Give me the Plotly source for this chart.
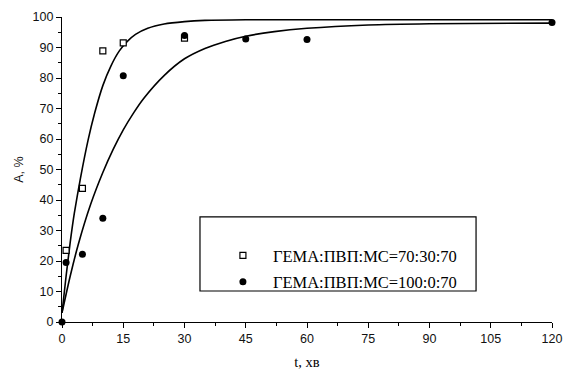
import plotly.graph_objects as go

# measured points
t_sq = [1, 5, 10, 15, 30, 45, 60, 120]
a_sq = [23.5, 43.8, 88.9, 91.5, 93.1, 100.4, 100.4, 100.4]
t_ci = [0, 1, 5, 10, 15, 30, 45, 60, 120]
a_ci = [0, 19.5, 22.2, 34.0, 80.7, 93.9, 92.8, 92.6, 98.2]

# fitted curves
t_fit1 = [0, 1, 2, 3, 4.5, 6.4, 8, 10, 12, 14, 16, 18, 21, 25, 30, 35, 45, 60, 90, 120]
a_fit1 = [3, 15, 26, 35.5, 47, 59.7, 68.5, 77.5, 84, 88.8, 92, 94.3, 96.3, 97.7, 98.5, 98.9, 99.1, 99.1, 99.1, 99.1]
t_fit2 = [0, 2, 4, 7, 10, 12.5, 15, 17.5, 20, 25, 30, 35, 40, 45, 52, 60, 75, 90, 120]
a_fit2 = [3, 15, 25.5, 38.5, 49, 56.5, 63, 68.5, 73.3, 80.8, 86.3, 89.7, 92, 93.7, 95.2, 96.3, 97.4, 97.8, 98]

names = ["ГЕМА:ПВП:МС=70:30:70", "ГЕМА:ПВП:МС=100:0:70"]
x_ticks = [0, 15, 30, 45, 60, 75, 90, 105, 120]
y_ticks = [0, 10, 20, 30, 40, 50, 60, 70, 80, 90, 100]

fig = go.Figure()
for tx, ay in ((t_fit1, a_fit1), (t_fit2, a_fit2)):
    fig.add_trace(go.Scatter(x=tx, y=ay, mode="lines",
                             line=dict(color="black", width=1.6, shape="spline", smoothing=0.6),
                             showlegend=False, hoverinfo="skip"))
fig.add_trace(go.Scatter(x=t_sq, y=a_sq, mode="markers", name=names[0], legendgroup="a",
                         marker=dict(symbol="square", size=6, color="white", line=dict(color="black", width=1.2)),
                         cliponaxis=False))
fig.add_trace(go.Scatter(x=t_ci, y=a_ci, mode="markers", name=names[1], legendgroup="b",
                         marker=dict(symbol="circle", size=7, color="black", line=dict(width=0)),
                         cliponaxis=False))

axis_common = dict(showline=True, linecolor="black", linewidth=1.2, ticks="outside", ticklen=5, tickwidth=1.2,
                   tickcolor="black", showgrid=False, zeroline=False, mirror=False, automargin=False,
                   tickfont=dict(family="Liberation Sans, Arial", size=12.5, color="#111"))
fig.update_layout(
    width=567, height=370,
    margin=dict(l=62, r=15, t=17, b=48),
    paper_bgcolor="white", plot_bgcolor="white",
    xaxis=dict(range=[0, 120], tickvals=x_ticks,
               minor=dict(dtick=7.5, tick0=0, ticks="outside", ticklen=3, tickcolor="black", tickwidth=1.2),
               title=dict(text="t, хв", font=dict(family="Liberation Serif, Times New Roman", size=14.5, color="black"), standoff=12),
               **axis_common),
    yaxis=dict(range=[0, 100], tickvals=y_ticks,
               minor=dict(dtick=5, tick0=0, ticks="outside", ticklen=3, tickcolor="black", tickwidth=1.2),
               title=dict(text="A, %", font=dict(family="Liberation Sans, Arial", size=12.5, color="#111"), standoff=6),
               **axis_common),
    legend=dict(x=0.308, y=0.175, xanchor="left", yanchor="middle", bgcolor="rgba(0,0,0,0)", borderwidth=0,
                font=dict(family="Liberation Serif, Times New Roman", size=16.5, color="black"),
                tracegroupgap=2, itemwidth=50),
    shapes=[dict(type="rect", xref="paper", yref="paper", x0=0.2816, x1=0.845, y0=0.1016, y1=0.345,
                 line=dict(color="black", width=1.2), fillcolor="rgba(0,0,0,0)", layer="above")],
)
fig.write_html("out.html")
